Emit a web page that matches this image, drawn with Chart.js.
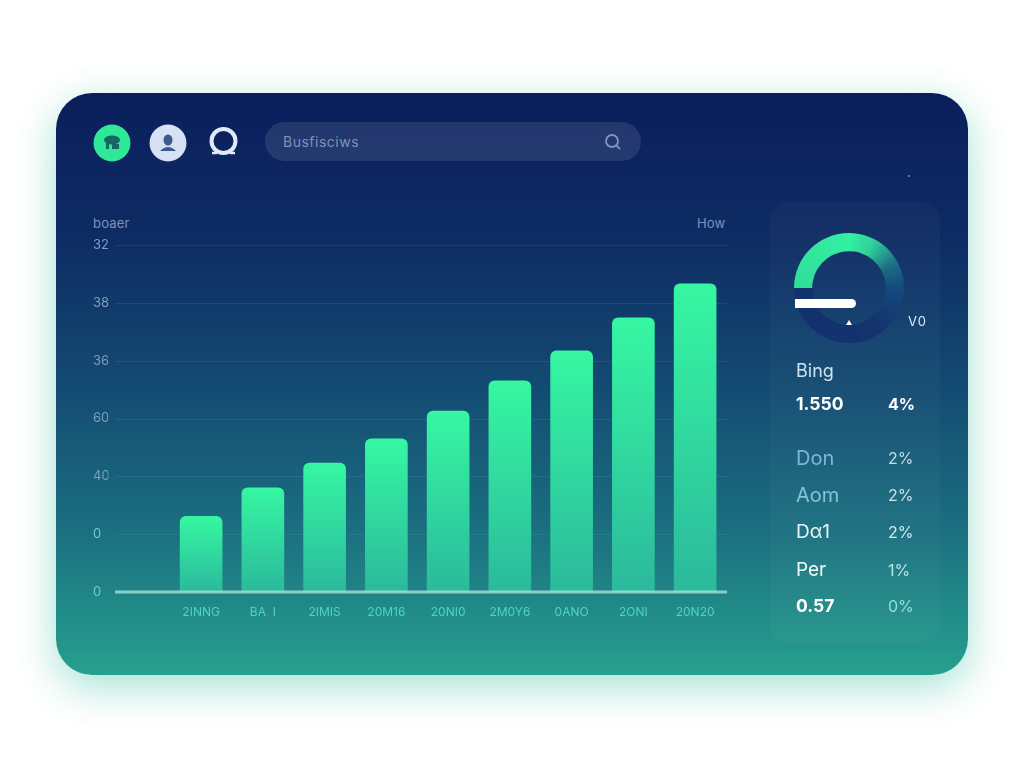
<!DOCTYPE html>
<html>
<head>
<meta charset="utf-8">
<title>Dashboard</title>
<script src="https://cdn.jsdelivr.net/npm/chart.js@4"></script>
<style>
  html, body { margin: 0; padding: 0; background: #fff; }
  body { width: 1024px; height: 768px; position: relative; overflow: hidden; font-family: Inter, sans-serif; }
  .card { position: absolute; left: 56px; top: 93px; width: 912px; height: 582px; border-radius: 36px;
    background: linear-gradient(180deg, #0a1e5c 0%, #0e2c64 25%, #134a72 50%, #1b6f80 75%, #26a08f 100%);
    box-shadow: 0 12px 40px rgba(50, 190, 160, .45); }
  .abs { position: absolute; }
  .search { left: 265px; top: 122px; width: 376px; height: 39px; border-radius: 20px; background: rgba(255,255,255,.1); }
  .search span { position: absolute; left: 18px; top: 11px; font-size: 14px; color: #7f93b4; letter-spacing: .5px; }
  .lbl { font-size: 13px; color: #7c92bb; letter-spacing: .2px; }
  .panel { left: 770px; top: 202px; width: 170px; height: 441px; border-radius: 18px; background: rgba(255,255,255,.028); }
  .row { position: absolute; font-size: 19px; line-height: 24px; }
  .bar { left: 795px; top: 299px; width: 61px; height: 9px; background: #fff; border-radius: 0 5px 5px 0; }
  #chartWrap { position: absolute; left: 93px; top: 230px; width: 647px; height: 400px; }
  #gaugeWrap { position: absolute; left: 794px; top: 233px; width: 110px; height: 110px; }
</style>
</head>
<body>
<div class="card"></div>

<svg class="abs" style="left:93px;top:124px" width="38" height="38">
  <circle cx="19" cy="19" r="18.5" fill="#2fe898"/>
  <ellipse cx="19" cy="16" rx="8" ry="4.5" fill="#14665f"/>
  <rect x="13" y="19" width="3" height="6" fill="#14665f"/><rect x="19" y="20" width="7" height="5" fill="#14665f"/>
</svg>
<svg class="abs" style="left:149px;top:124px" width="38" height="38">
  <circle cx="19" cy="19" r="18.5" fill="#d6e1f4"/>
  <ellipse cx="19" cy="16" rx="4.5" ry="5.5" fill="#3d5a8c"/>
  <path d="M11 27 Q19 19 27 27 Z" fill="#3d5a8c"/>
</svg>
<svg class="abs" style="left:207px;top:126px" width="34" height="34">
  <circle cx="16.500" cy="15" r="12" fill="none" stroke="#dfe9f8" stroke-width="4"/>
  <path d="M5 27 h5 M23 27 h5" stroke="#dfe9f8" stroke-width="2.500"/>
</svg>

<div class="abs search"><span>Busfisciws</span>
  <svg class="abs" style="left:338px;top:10px" width="20" height="20">
    <circle cx="9" cy="9" r="6" fill="none" stroke="#7f94bb" stroke-width="1.800"/>
    <path d="M13.500 13.500 L17 17" stroke="#7f94bb" stroke-width="1.800"/>
  </svg>
</div>

<div class="abs lbl" style="left:93px;top:215px">boaer</div>
<div class="abs lbl" style="left:697px;top:215px">How</div>
<div class="abs" style="left:908px;top:175px;width:2px;height:2px;background:#5a78a8"></div>

<div class="abs panel"></div>
<div id="chartWrap"><canvas id="barChart"></canvas></div>
<div id="gaugeWrap"><canvas id="gauge"></canvas></div>
<div class="abs bar"></div>
<div class="abs" style="left:846px;top:320px;width:0;height:0;border-left:3px solid transparent;border-right:3px solid transparent;border-bottom:5px solid #fff"></div>
<div class="abs" style="left:908px;top:313px;font-size:13px;color:#dfeaf5;letter-spacing:1px">V0</div>

<div id="rows"></div>

<script>
const categories = ['', '2INNG', 'BA  I', '2IMIS', '20M16', '20NI0', '2M0Y6', '0ANO', '2ONI', '20N20'];
const barValues = [null, 1.31, 1.80, 2.23, 2.65, 3.13, 3.65, 4.17, 4.74, 5.33];
const yTickLabels = ['0', '0', '40', '60', '36', '38', '32'];
const gaugeValues = [55, 45];

const rowNames = ['Bing', '1.550', 'Don', 'Aom', 'D\u03b11', 'Per', '0.57'];
const rowPercents = ['', '4%', '2%', '2%', '2%', '1%', '0%'];
const rowTops = [359, 392, 446, 483, 520, 558, 594];
const pctTops = [359, 392, 446, 483, 520, 558, 594];
const rowSizes = [18, 17.5, 20, 20, 19, 19, 17.5];
const rowColors = ['#cfe2f0', '#ffffff', '#7fb6d6', '#82c4da', '#e6f3f7', '#f0f8fa', '#ffffff'];
const pctColors = ['', '#ffffff', '#c4dfea', '#c9e6ec', '#d0ecef', '#b8e6e8', '#8fe0da'];

// right hand list
const rowsEl = document.getElementById('rows');
rowNames.forEach((name, i) => {
    const bold = name[0] === '0' || name[0] === '1';
    const a = document.createElement('div');
    a.className = 'row';
    a.textContent = name;
    a.style.cssText = `left:796px;top:${rowTops[i]}px;color:${rowColors[i]};font-weight:${bold ? 700 : 400};font-size:${rowSizes[i]}px`;
    rowsEl.appendChild(a);
    if (rowPercents[i]) {
        const b = document.createElement('div');
        b.className = 'row';
        b.textContent = rowPercents[i];
        b.style.cssText = `left:888px;top:${pctTops[i]}px;color:${pctColors[i]};font-size:16px;font-weight:${i === 1 ? 700 : 400}`;
        rowsEl.appendChild(b);
    }
});

Chart.defaults.font.family = 'Inter, sans-serif';
Chart.defaults.animation = false;

// grid and base line start right of the tick labels, not at the first (empty) category
const gridPlugin = {
    id: 'gridLines',
    beforeDatasetsDraw(chart) {
        const { ctx, scales } = chart;
        ctx.save();
        ctx.lineWidth = 1;
        ctx.strokeStyle = 'rgba(130,185,205,.13)';
        scales.y.ticks.forEach((t, i) => {
            if (i === 0) return;
            const py = Math.round(scales.y.getPixelForTick(i)) + .5;
            ctx.beginPath();
            ctx.moveTo(22, py);
            ctx.lineTo(634, py);
            ctx.stroke();
        });
        ctx.restore();
    },
    afterDatasetsDraw(chart) {
        const { ctx, scales } = chart;
        const py = scales.y.getPixelForValue(0);
        ctx.save();
        ctx.lineWidth = 3;
        ctx.strokeStyle = 'rgba(175,230,220,.75)';
        ctx.beginPath();
        ctx.moveTo(22, py);
        ctx.lineTo(634, py);
        ctx.stroke();
        ctx.restore();
    }
};

const barFill = (c) => {
    const y = c.chart.scales.y;
    if (!y || !c.parsed || !Number.isFinite(c.parsed.y)) return '#34f5a0';
    const g = c.chart.ctx.createLinearGradient(0, y.getPixelForValue(c.parsed.y), 0, y.getPixelForValue(0));
    g.addColorStop(0, '#36f7a2');
    g.addColorStop(1, '#2bb99c');
    return g;
};

const barCtx = document.getElementById('barChart').getContext('2d');
barCtx.letterSpacing = '1px';

new Chart(barCtx, {
    type: 'bar',
    data: {
        labels: categories,
        datasets: [{
            data: barValues,
            backgroundColor: barFill,
            barThickness: 42,
            borderRadius: 6
        }]
    },
    plugins: [gridPlugin],
    options: {
        responsive: true,
        maintainAspectRatio: false,
        layout: { padding: { top: 15, right: 14, left: 0, bottom: 0 } },
        plugins: { legend: { display: false }, tooltip: { enabled: false } },
        scales: {
            x: {
                grid: { display: false, drawTicks: false },
                border: { display: false },
                afterFit: (s) => { s.height = 38; },
                ticks: { color: '#4fd6bd', font: { size: 12 }, padding: 13, autoSkip: false, maxRotation: 0 }
            },
            y: {
                min: 0,
                max: 6,
                grid: { display: false, drawTicks: false },
                border: { display: false },
                afterFit: (s) => { s.width = 15.5; },
                ticks: {
                    stepSize: 1,
                    padding: 0,
                    crossAlign: 'far',
                    font: { size: 13 },
                    color: (c) => c.index > 1 ? '#7f9cc0' : '#7fc5c9',
                    callback: (v, i) => yTickLabels[i]
                }
            }
        }
    }
});

// gauge
const gaugeCtx = document.getElementById('gauge').getContext('2d');
const gaugeFill = (c) => {
    const a = c.chart.chartArea;
    if (!a) return '#34e89e';
    const g = gaugeCtx.createConicGradient(Math.PI, (a.left + a.right) / 2, (a.top + a.bottom) / 2);
    g.addColorStop(0, '#2fdd99');
    g.addColorStop(.25, '#34f0a2');
    g.addColorStop(.33, '#30cf9a');
    g.addColorStop(.42, '#1c6f86');
    g.addColorStop(.5, '#134a7c');
    g.addColorStop(.65, '#14336f');
    g.addColorStop(1, '#13306f');
    return g;
};

new Chart(gaugeCtx, {
    type: 'doughnut',
    data: {
        datasets: [{
            data: gaugeValues,
            backgroundColor: gaugeFill,
            borderWidth: 0
        }]
    },
    options: {
        responsive: true,
        maintainAspectRatio: false,
        rotation: -90,
        cutout: '67%',
        plugins: { legend: { display: false }, tooltip: { enabled: false } }
    }
});
</script>
</body>
</html>
